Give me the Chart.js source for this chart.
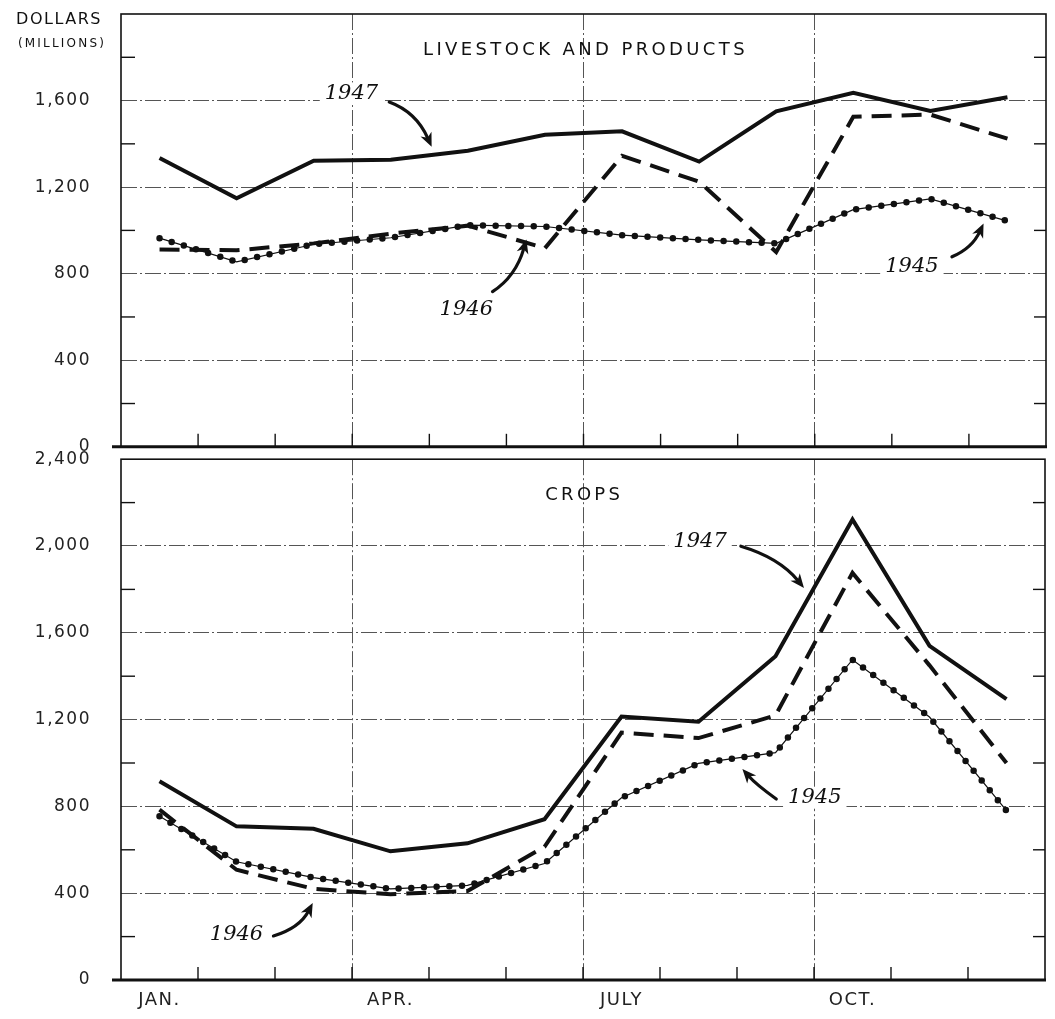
<!DOCTYPE html>
<html>
<head>
<meta charset="utf-8">
<title>Cash receipts from farm marketings</title>
<script src="https://cdn.jsdelivr.net/npm/chart.js@4.4.1/dist/chart.umd.min.js"></script>
<style>
  body { margin: 0; background: #fff; }
  .panel { position: absolute; left: 0; width: 1055px; }
  #topPanel { top: 0; height: 457px; }
  #bottomPanel { top: 449px; height: 570px; }
</style>
</head>
<body>
<div class="panel" id="topPanel"><canvas id="livestockChart"></canvas></div>
<div class="panel" id="bottomPanel"><canvas id="cropsChart"></canvas></div>
<script>
const months = ['JAN.', 'FEB.', 'MAR.', 'APR.', 'MAY', 'JUNE', 'JULY', 'AUG.', 'SEPT.', 'OCT.', 'NOV.', 'DEC.'];
const shownMonths = ['JAN.', 'APR.', 'JULY', 'OCT.'];

// livestock and products, millions of dollars
const livestock1947 = [1335, 1148, 1322, 1326, 1368, 1442, 1458, 1318, 1550, 1636, 1552, 1615];
const livestock1946 = [912, 908, 940, 985, 1022, 918, 1345, 1225, 900, 1525, 1535, 1424];
const livestock1945 = [964, 855, 936, 966, 1024, 1018, 978, 956, 940, 1096, 1146, 1043];

// crops, millions of dollars
const crops1947 = [916, 708, 697, 593, 630, 741, 1214, 1190, 1492, 2122, 1540, 1294];
const crops1946 = [785, 508, 420, 395, 410, 614, 1140, 1115, 1219, 1876, 1450, 1000];
const crops1945 = [755, 545, 472, 420, 436, 537, 840, 998, 1048, 1476, 1212, 780];

const livestockTicks = [0, 400, 800, 1200, 1600];
const cropsTicks = [0, 400, 800, 1200, 1600, 2000, 2400];

// year labels and arrows, in month / dollar units
const livestockNotes = {
  title: {text: 'LIVESTOCK AND PRODUCTS', x: 6.0, y: 1832, width: 325},
  labels: [
    {text: '1947', x: 2.99, y: 1633},
    {text: '1946', x: 4.48, y: 632},
    {text: '1945', x: 10.26, y: 832}
  ],
  arrows: [
    {from: [3.48, 1593], via: [3.83, 1547], to: [4.03, 1386]},
    {from: [4.82, 717], via: [5.12, 786], to: [5.26, 958]},
    {from: [10.78, 878], via: [11.04, 917], to: [11.19, 1032]}
  ]
};
const cropsNotes = {
  title: {text: 'CROPS', x: 5.99, y: 2233, width: 78},
  labels: [
    {text: '1947', x: 7.52, y: 2022},
    {text: '1945', x: 9.01, y: 840},
    {text: '1946', x: 1.50, y: 208}
  ],
  arrows: [
    {from: [8.05, 1999], via: [8.55, 1946], to: [8.87, 1807]},
    {from: [8.51, 834], via: [8.25, 900], to: [8.07, 972]},
    {from: [1.98, 203], via: [2.32, 240], to: [2.49, 355]}
  ]
};

const ink = '#111';
const gridInk = '#555';

function seriesData(values) {
  return values.map((v, i) => ({x: i + 0.5, y: v}));
}

function yearDatasets(v1947, v1946, v1945) {
  return [
    {label: '1947', data: seriesData(v1947), borderColor: ink, borderWidth: 4},
    {label: '1946', data: seriesData(v1946), borderColor: ink, borderWidth: 4, borderDash: [20, 10]},
    {label: '1945', data: seriesData(v1945), borderColor: ink, borderWidth: 1.2},
    {label: '1945 dots', data: seriesData(v1945), borderColor: ink, borderWidth: 6.5,
      borderDash: [0, 12.7], borderCapStyle: 'round'}
  ];
}

// frame, inner minor ticks, titles, year labels with arrows
const decorations = {
  id: 'decorations',
  beforeDraw(chart) {
    chart.ctx.letterSpacing = '1.5px';
  },
  afterDatasetsDraw(chart, args, opts) {
    const {ctx, chartArea: a, scales: {x, y}} = chart;
    const line = (x1, y1, x2, y2) => { ctx.beginPath(); ctx.moveTo(x1, y1); ctx.lineTo(x2, y2); ctx.stroke(); };
    ctx.save();
    ctx.strokeStyle = ink;
    ctx.lineWidth = 1.4;
    for (let v = 200; v < y.max; v += 200) {
      if (v % 400 === 0) continue;
      const py = y.getPixelForValue(v);
      line(a.left, py, a.left + 14, py);
      line(a.right - 12, py, a.right, py);
    }
    for (let m = 1; m < 12; m++) {
      const px = x.getPixelForValue(m);
      line(px, a.bottom, px, a.bottom - 13);
    }
    ctx.lineWidth = 1.6;
    ctx.strokeRect(a.left, a.top, a.width, a.height);
    ctx.lineWidth = 3;
    line(a.left - 9, a.bottom, a.right + 1, a.bottom);

    const notes = opts.notes;
    ctx.fillStyle = ink;
    ctx.textAlign = 'center';
    ctx.textBaseline = 'middle';

    // panel title, spread to the width of the original lettering
    const t = notes.title;
    ctx.font = '18px "DejaVu Sans"';
    ctx.letterSpacing = '0px';
    const plain = ctx.measureText(t.text).width;
    ctx.letterSpacing = Math.max(0, (t.width - plain) / t.text.length) + 'px';
    ctx.fillText(t.text, x.getPixelForValue(t.x) + 2, y.getPixelForValue(t.y));
    ctx.letterSpacing = '0px';

    if (opts.unitLabel) {
      ctx.font = '16px "DejaVu Sans"';
      ctx.letterSpacing = '1.5px';
      ctx.fillText('DOLLARS', 59, 20);
      ctx.font = '12px "DejaVu Sans"';
      ctx.letterSpacing = '2.2px';
      ctx.fillText('(MILLIONS)', 62, 44);
      ctx.letterSpacing = '0px';
    }

    ctx.font = 'italic 21px "DejaVu Serif"';
    notes.labels.forEach(l => {
      const px = x.getPixelForValue(l.x), py = y.getPixelForValue(l.y);
      const w = ctx.measureText(l.text).width;
      ctx.fillStyle = '#fff';
      ctx.fillRect(px - w / 2 - 5, py - 11, w + 10, 22);
      ctx.fillStyle = ink;
      ctx.fillText(l.text, px, py);
    });

    ctx.lineWidth = 3.2;
    ctx.lineCap = 'round';
    notes.arrows.forEach(ar => {
      const p0 = [x.getPixelForValue(ar.from[0]), y.getPixelForValue(ar.from[1])];
      const p1 = [x.getPixelForValue(ar.via[0]), y.getPixelForValue(ar.via[1])];
      const p2 = [x.getPixelForValue(ar.to[0]), y.getPixelForValue(ar.to[1])];
      let dx = p2[0] - p1[0], dy = p2[1] - p1[1];
      const len = Math.hypot(dx, dy);
      dx /= len; dy /= len;
      const back = [p2[0] - dx * 9, p2[1] - dy * 9];
      ctx.beginPath();
      ctx.moveTo(p0[0], p0[1]);
      ctx.quadraticCurveTo(p1[0], p1[1], back[0], back[1]);
      ctx.stroke();
      ctx.beginPath();
      ctx.moveTo(p2[0], p2[1]);
      ctx.lineTo(p2[0] - dx * 14 - dy * 6, p2[1] - dy * 14 + dx * 6);
      ctx.lineTo(p2[0] - dx * 10, p2[1] - dy * 10);
      ctx.lineTo(p2[0] - dx * 14 + dy * 6, p2[1] - dy * 14 - dx * 6);
      ctx.closePath();
      ctx.fill();
    });
    ctx.restore();
  }
};

function makeChart(canvasId, datasets, yMax, labelled, notes, opts) {
  const tickFont = {family: 'DejaVu Sans', size: 17};
  return new Chart(document.getElementById(canvasId), {
    type: 'line',
    data: {datasets: datasets},
    plugins: [decorations],
    options: {
      responsive: true,
      maintainAspectRatio: false,
      animation: false,
      layout: {padding: {top: opts.top, right: 9, left: 0, bottom: 0}},
      elements: {point: {radius: 0}, line: {tension: 0, borderJoinStyle: 'miter'}},
      plugins: {
        legend: {display: false},
        tooltip: {enabled: false},
        decorations: {notes: notes, unitLabel: opts.unitLabel}
      },
      scales: {
        x: {
          type: 'linear',
          min: 0,
          max: 12,
          afterBuildTicks: s => {
            s.ticks = [];
            for (let v = 0; v <= 12; v += 0.5) s.ticks.push({value: v});
          },
          afterFit: s => { s.height = opts.xHeight; },
          grid: {
            drawTicks: false,
            lineWidth: 1,
            color: c => (c.tick && [3, 6, 9].includes(c.tick.value)) ? gridInk : 'transparent'
          },
          border: {display: false, dash: [16, 3, 2, 3]},
          ticks: {
            display: opts.showMonths,
            autoSkip: false,
            maxRotation: 0,
            padding: 10,
            color: '#222',
            font: {family: 'DejaVu Sans', size: 18},
            callback: v => {
              const i = v - 0.5;
              return (Number.isInteger(i) && shownMonths.includes(months[i])) ? months[i] : '';
            }
          }
        },
        y: {
          min: 0,
          max: yMax,
          afterFit: s => { s.width = 121; },
          grid: {
            drawTicks: true,
            tickLength: 30,
            tickColor: 'transparent',
            lineWidth: 1,
            color: c => (c.tick && c.tick.value % 400 === 0 && c.tick.value > 0 && c.tick.value < yMax) ? gridInk : 'transparent'
          },
          border: {display: false, dash: [16, 3, 2, 3]},
          ticks: {
            stepSize: 200,
            autoSkip: false,
            padding: 0,
            color: '#222',
            font: tickFont,
            callback: v => labelled.includes(v) ? v.toLocaleString('en-US') : ''
          }
        }
      }
    }
  });
}

makeChart('livestockChart', yearDatasets(livestock1947, livestock1946, livestock1945), 2000,
  livestockTicks, livestockNotes, {top: 14, xHeight: 10, showMonths: false, unitLabel: true});
makeChart('cropsChart', yearDatasets(crops1947, crops1946, crops1945), 2400,
  cropsTicks, cropsNotes, {top: 10, xHeight: 39, showMonths: true, unitLabel: false});
</script>
</body>
</html>
